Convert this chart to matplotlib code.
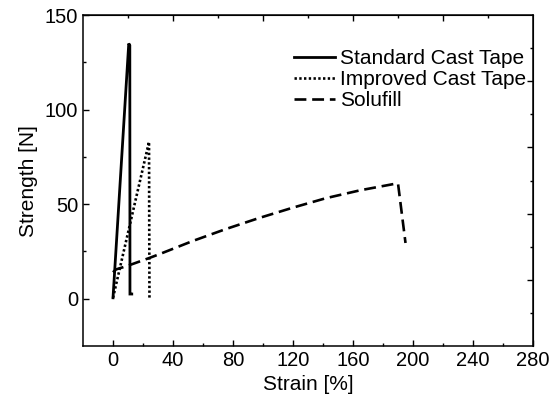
import matplotlib.pyplot as plt
from matplotlib.ticker import MultipleLocator, FixedLocator, NullFormatter

plt.rcParams['font.family'] = ['Liberation Sans', 'DejaVu Sans']

# curvas (deformação em %, força em N)
padrao_x = [0, 10.5, 11.2, 11.3, 12.5]
padrao_y = [0.5, 135, 134, 2.5, 2.5]

melhorada_x = [0, 24.0, 24.3]
melhorada_y = [0.5, 83, 0]

solufill_x = [0, 2, 10, 24, 31, 53, 75, 97, 120, 142, 165, 188, 190, 195]
solufill_y = [14, 15.5, 17.5, 21.5, 23.6, 30.5, 36.8, 42.6, 48.2, 53.2, 57.4, 60.8, 61, 29.5]

rotulos = ['Standard Cast Tape', 'Improved Cast Tape', 'Solufill']

fig = plt.figure(figsize=(5.59, 4.09), dpi=100)
ax = fig.add_axes([0.1485, 0.154, 0.805, 0.809])

ax.plot(padrao_x, padrao_y, color='black', lw=2.0, solid_joinstyle='miter', label=rotulos[0])
ax.plot(melhorada_x, melhorada_y, color='black', lw=1.9, linestyle=(0, (0.9, 0.9)), label=rotulos[1])
ax.plot(solufill_x, solufill_y, color='black', lw=1.9, linestyle=(0, (4.5, 2.2)), label=rotulos[2])

ax.set_xlim(-20, 280)
ax.set_ylim(-25, 150)
ax.xaxis.set_major_locator(MultipleLocator(40))
ax.xaxis.set_minor_locator(FixedLocator(list(range(20, 280, 40))))
ax.yaxis.set_major_locator(FixedLocator([0, 50, 100, 150]))
ax.yaxis.set_minor_locator(FixedLocator([25, 75, 125]))

ax.tick_params(which='both', direction='in', width=1.0, labelsize=14.5)
ax.tick_params(which='major', length=4)
ax.tick_params(which='minor', length=2.5)
for lado in ax.spines.values():
    lado.set_linewidth(1.1)

# eixo de cima e da direita com marcações próprias (estilo Origin)
topo = ax.secondary_xaxis('top')
topo.xaxis.set_major_locator(FixedLocator([40, 100, 160, 220]))
topo.xaxis.set_minor_locator(FixedLocator([10, 70, 130, 190, 250]))
topo.xaxis.set_major_formatter(NullFormatter())
topo.tick_params(which='both', direction='in', width=1.0)
topo.tick_params(which='major', length=4)
topo.tick_params(which='minor', length=2.5)

direita = ax.secondary_yaxis('right')
direita.yaxis.set_major_locator(FixedLocator([10, 45, 80, 115]))
direita.yaxis.set_minor_locator(FixedLocator([-7.5, 27.5, 62.5, 97.5, 132.5]))
direita.yaxis.set_major_formatter(NullFormatter())
direita.tick_params(which='both', direction='in', width=1.0)
direita.tick_params(which='major', length=4)
direita.tick_params(which='minor', length=2.5)

ax.set_xlabel('Strain [%]', fontsize=15, labelpad=4)
ax.set_ylabel('Strength [N]', fontsize=15, labelpad=5)

ax.legend(loc='upper left', bbox_to_anchor=(0.468, 0.898), frameon=False, fontsize=15,
          borderpad=0, borderaxespad=0, handlelength=2.0, handletextpad=0.25, labelspacing=0.1)

plt.savefig('out.png', dpi=100)
